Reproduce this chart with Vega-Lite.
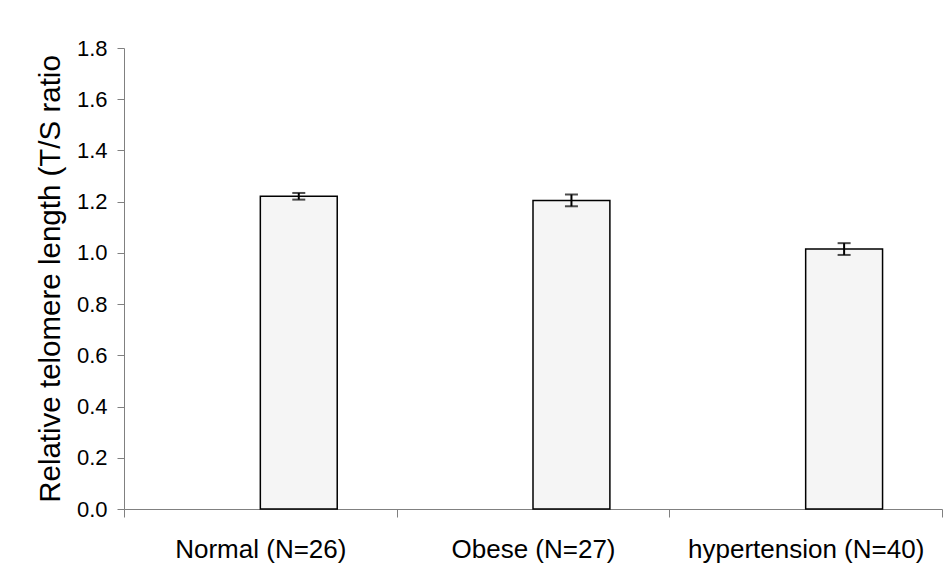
{
  "$schema": "https://vega.github.io/schema/vega-lite/v6.json",
  "autosize": "none",
  "width": 818,
  "height": 461,
  "padding": {"left": 124, "top": 48, "right": 1, "bottom": 73},
  "background": "white",
  "config": {
    "view": {"stroke": null},
    "font": "Liberation Sans",
    "axis": {"domainColor": "#808080", "tickColor": "#808080", "labelColor": "black", "titleColor": "black", "grid": false, "labelFont": "Liberation Sans", "titleFont": "Liberation Sans", "titleFontWeight": "normal"}
  },
  "data": {
    "values": [
      {"group": "Normal (N=26)", "series": "value", "mean": 1.221, "err": 0.013},
      {"group": "Obese (N=27)", "series": "value", "mean": 1.205, "err": 0.023},
      {"group": "hypertension (N=40)", "series": "value", "mean": 1.015, "err": 0.023}
    ]
  },
  "transform": [
    {"calculate": "datum.mean - datum.err", "as": "lo"},
    {"calculate": "datum.mean + datum.err", "as": "hi"}
  ],
  "encoding": {
    "x": {
      "field": "group", "type": "nominal", "sort": null,
      "scale": {"domain": ["Normal (N=26)", "Obese (N=27)", "hypertension (N=40)"], "paddingInner": 0, "paddingOuter": 0},
      "axis": {"title": null, "labelAngle": 0, "labelFontSize": 26, "labelLimit": 0, "tickBand": "extent", "tickSize": 8, "labelPadding": 19, "domainWidth": 1}
    },
    "xOffset": {"field": "series", "type": "nominal", "scale": {"domain": ["blank", "value"], "paddingInner": 0, "paddingOuter": 0.773}}
  },
  "layer": [
    {
      "mark": {"type": "bar", "fill": "#f5f5f5", "stroke": "black", "strokeWidth": 1.5},
      "encoding": {
        "y": {
          "field": "mean", "type": "quantitative",
          "scale": {"domain": [0, 1.8], "nice": false},
          "axis": {"title": "Relative telomere length (T/S ratio", "titleFontSize": 29.5, "titlePadding": 11, "values": [0, 0.2, 0.4, 0.6, 0.8, 1.0, 1.2, 1.4, 1.6, 1.8], "format": ".1f", "labelFontSize": 22, "tickSize": 7, "labelPadding": 10}
        }
      }
    },
    {
      "mark": {"type": "rule", "color": "black", "strokeWidth": 2},
      "encoding": {"y": {"field": "lo", "type": "quantitative"}, "y2": {"field": "hi"}}
    },
    {
      "mark": {"type": "tick", "orient": "horizontal", "color": "black", "size": 13, "thickness": 2},
      "encoding": {"y": {"field": "lo", "type": "quantitative"}}
    },
    {
      "mark": {"type": "tick", "orient": "horizontal", "color": "black", "size": 13, "thickness": 2},
      "encoding": {"y": {"field": "hi", "type": "quantitative"}}
    }
  ]
}
